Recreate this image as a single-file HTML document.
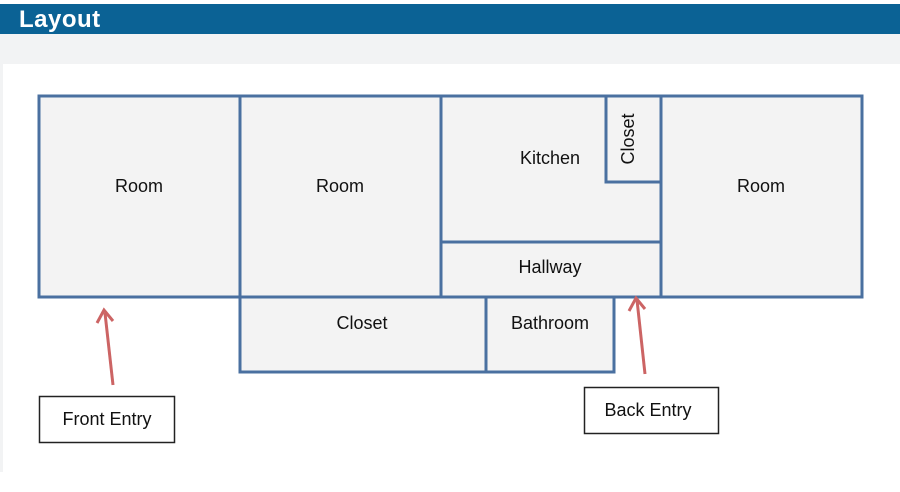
<!DOCTYPE html>
<html><head><style>
body{margin:0;width:900px;height:492px;background:#fff;overflow:hidden;font-family:"Liberation Sans",sans-serif}
</style></head><body>
<div style="position:absolute;left:0;top:4px;width:900px;height:30px;background:#0b6295"></div>
<div style="position:absolute;left:19px;top:5px;color:#fff;font-weight:bold;font-size:24px;line-height:30px;letter-spacing:0.5px">Layout</div>
<div style="position:absolute;left:0;top:34px;width:900px;height:30px;background:#f2f3f4"></div>
<div style="position:absolute;left:0;top:64px;width:3px;height:408px;background:#f2f3f4"></div>
<svg width="900" height="492" style="position:absolute;left:0;top:0" font-family="Liberation Sans, sans-serif" font-size="18" fill="#111">
<g fill="#f3f3f3" stroke="#4a70a0" stroke-width="3">
<rect x="39" y="96" width="823" height="201"/>
<rect x="240" y="297" width="374" height="75"/>
<line x1="240" y1="96" x2="240" y2="297"/>
<line x1="441" y1="96" x2="441" y2="297"/>
<line x1="661" y1="96" x2="661" y2="297"/>
<polyline points="606,96 606,182 661,182" fill="none"/>
<line x1="441" y1="242" x2="661" y2="242"/>
<line x1="486" y1="297" x2="486" y2="372"/>
</g>
<g text-anchor="middle">
<text x="139" y="192">Room</text>
<text x="340" y="192">Room</text>
<text x="550" y="164">Kitchen</text>
<text x="761" y="192">Room</text>
<text x="550" y="273">Hallway</text>
<text x="362" y="329">Closet</text>
<text x="550" y="329">Bathroom</text>
<text transform="translate(634,139) rotate(-90)">Closet</text>
</g>
<g stroke="#cc6464" stroke-width="3" fill="none">
<line x1="113" y1="385" x2="105" y2="313"/>
<polyline points="97,323 104,310 113,321"/>
<line x1="645" y1="374" x2="637" y2="300"/>
<polyline points="629,311 636,298 645,309"/>
</g>
<rect x="39.5" y="396.5" width="135" height="46" fill="#fff" stroke="#222" stroke-width="1.5"/>
<text x="107" y="425" text-anchor="middle">Front Entry</text>
<rect x="584.5" y="387.5" width="134" height="46" fill="#fff" stroke="#222" stroke-width="1.5"/>
<text x="648" y="416" text-anchor="middle">Back Entry</text>
</svg>
</body></html>
